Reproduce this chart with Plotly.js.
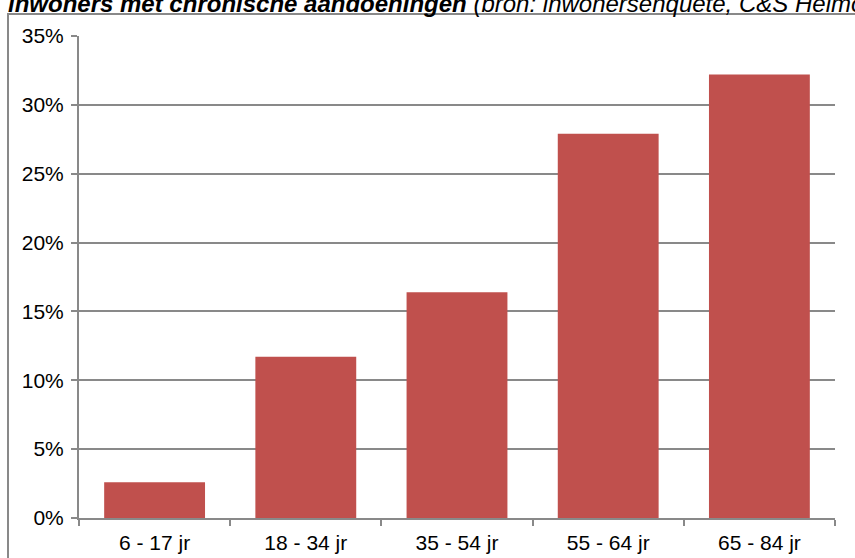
<!DOCTYPE html>
<html>
<head>
<meta charset="utf-8">
<script src="https://cdn.plot.ly/plotly-3.0.1.min.js"></script>
<style>html,body{margin:0;padding:0;background:#fff;}#chart{width:855px;height:558px;}</style>
</head>
<body>
<div id="chart"></div>
<script>
const categories = ["6 - 17 jr", "18 - 34 jr", "35 - 54 jr", "55 - 64 jr", "65 - 84 jr"];
const values = [0.026, 0.117, 0.164, 0.279, 0.322];
const yTicks = [0, 0.05, 0.10, 0.15, 0.20, 0.25, 0.30, 0.35];
const titleBold = "inwoners met chronische aandoeningen";
const titleRest = " (bron: inwonersenquete, C&S Helmond)";

const W = 855, H = 558;
const L = 79, R = 835, T = 36, B = 518;
const pw = R - L, ph = B - T;
const grey = "#898989";

const trace = {
  type: "bar",
  x: categories,
  y: values,
  marker: {color: "#C0504D", line: {width: 0}},
  hoverinfo: "x+y"
};

const layout = {
  width: W, height: H,
  margin: {l: L, r: W - R, t: T, b: H - B, pad: 0},
  paper_bgcolor: "#fff",
  plot_bgcolor: "#fff",
  font: {family: "Liberation Sans, Arial, sans-serif", size: 21, color: "#000"},
  bargap: 0.333,
  showlegend: false,
  title: {
    text: "<b><i>" + titleBold + "</i></b><i>" + titleRest + "</i>",
    font: {family: "Liberation Sans, Arial, sans-serif", size: 24, color: "#000"},
    xref: "container", yref: "container",
    x: 8 / W, xanchor: "left",
    y: 1 - 12 / H, yanchor: "bottom",
    pad: {t: 0, b: 0, l: 0, r: 0}
  },
  xaxis: {
    type: "category",
    showgrid: false,
    showline: true, linecolor: grey, linewidth: 2,
    ticks: "outside", tickson: "boundaries", ticklen: 6, tickwidth: 2, tickcolor: grey,
    ticklabelstandoff: 5,
    tickfont: {size: 21, color: "#000"},
    zeroline: false,
    fixedrange: true
  },
  yaxis: {
    range: [0, 0.35],
    tickvals: yTicks,
    tickformat: ".0%",
    showgrid: true, gridcolor: grey, gridwidth: 2,
    showline: true, linecolor: grey, linewidth: 2,
    ticks: "outside", ticklen: 6, tickwidth: 2, tickcolor: grey,
    ticklabelstandoff: 3,
    tickfont: {size: 21, color: "#000"},
    zeroline: false,
    fixedrange: true
  },
  shapes: [{
    type: "rect", xref: "paper", yref: "paper",
    x0: (8 - L) / pw, x1: (W + 20 - L) / pw,
    y0: (B - (H + 20)) / ph, y1: (B - 14) / ph,
    line: {color: grey, width: 2}, fillcolor: "rgba(0,0,0,0)", layer: "below"
  }]
};

Plotly.newPlot("chart", [trace], layout, {displayModeBar: false, staticPlot: true});
</script>
</body>
</html>
